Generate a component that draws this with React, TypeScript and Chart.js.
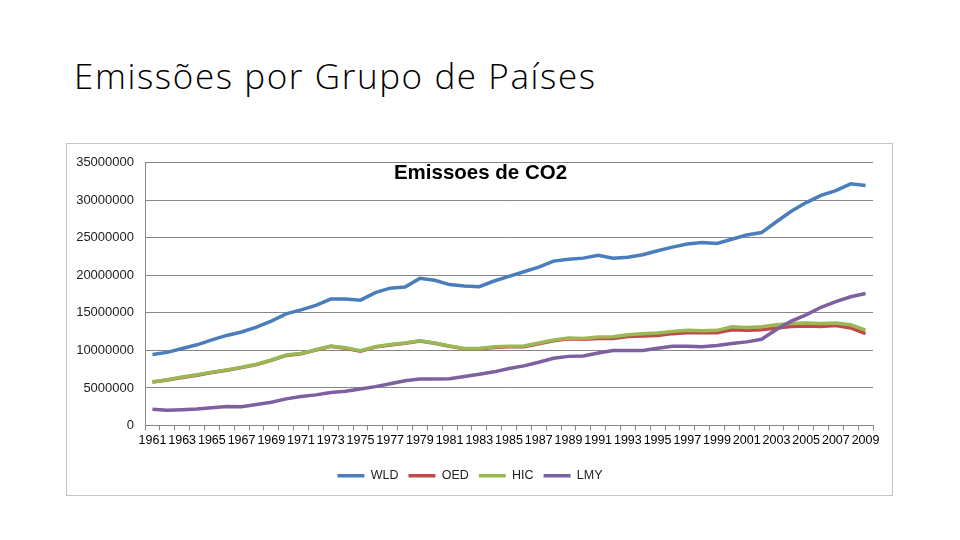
import React, { useEffect, useRef } from "react";
import { Chart, registerables } from "chart.js";

Chart.register(...registerables);

const years = [
  "1961", "1962", "1963", "1964", "1965", "1966", "1967", "1968", "1969", "1970",
  "1971", "1972", "1973", "1974", "1975", "1976", "1977", "1978", "1979", "1980",
  "1981", "1982", "1983", "1984", "1985", "1986", "1987", "1988", "1989", "1990",
  "1991", "1992", "1993", "1994", "1995", "1996", "1997", "1998", "1999", "2000",
  "2001", "2002", "2003", "2004", "2005", "2006", "2007", "2008", "2009",
];

const wld = [
  9470000, 9740000, 10260000, 10750000, 11400000, 12000000, 12460000, 13100000, 13900000, 14870000,
  15400000, 16000000, 16840000, 16840000, 16700000, 17700000, 18300000, 18460000, 19600000, 19340000,
  18770000, 18600000, 18500000, 19250000, 19870000, 20480000, 21100000, 21900000, 22150000, 22300000,
  22680000, 22300000, 22430000, 22760000, 23290000, 23770000, 24170000, 24390000, 24250000, 24820000,
  25390000, 25700000, 27150000, 28550000, 29700000, 30660000, 31300000, 32200000, 31970000,
];

const oed = [
  5780000, 6050000, 6400000, 6700000, 7050000, 7360000, 7710000, 8110000, 8680000, 9340000,
  9550000, 10050000, 10550000, 10300000, 9910000, 10450000, 10730000, 10950000, 11250000, 10950000,
  10550000, 10210000, 10210000, 10400000, 10480000, 10500000, 10900000, 11300000, 11550000, 11500000,
  11600000, 11600000, 11850000, 11930000, 12000000, 12240000, 12370000, 12370000, 12370000, 12760000,
  12680000, 12760000, 13000000, 13200000, 13250000, 13200000, 13330000, 13000000, 12240000,
];

const hic = [
  5830000, 6100000, 6450000, 6750000, 7100000, 7410000, 7760000, 8160000, 8730000, 9390000,
  9600000, 10100000, 10600000, 10350000, 9960000, 10500000, 10780000, 11000000, 11300000, 11000000,
  10600000, 10260000, 10260000, 10480000, 10570000, 10600000, 11000000, 11400000, 11670000, 11600000,
  11800000, 11840000, 12100000, 12240000, 12320000, 12540000, 12680000, 12630000, 12680000, 13160000,
  13070000, 13160000, 13420000, 13600000, 13640000, 13600000, 13640000, 13420000, 12720000,
];

const lmy = [
  2150000, 2020000, 2100000, 2190000, 2370000, 2540000, 2500000, 2800000, 3110000, 3550000,
  3860000, 4080000, 4390000, 4560000, 4870000, 5180000, 5550000, 5960000, 6180000, 6180000,
  6230000, 6540000, 6840000, 7150000, 7590000, 7940000, 8420000, 8950000, 9210000, 9260000,
  9650000, 10000000, 10000000, 10000000, 10300000, 10570000, 10570000, 10480000, 10660000, 10920000,
  11140000, 11490000, 12800000, 13900000, 14740000, 15750000, 16500000, 17150000, 17590000,
];

const chartTitle = "Emissoes de CO2";

const overlayTitle = {
  id: "overlayTitle",
  afterDraw(chart: Chart) {
    const { ctx } = chart;
    ctx.save();
    ctx.font = "bold 20.5px 'Liberation Sans'";
    ctx.fillStyle = "#000000";
    ctx.textAlign = "center";
    ctx.textBaseline = "middle";
    ctx.fillText(chartTitle, chart.width / 2 + 1, 29);
    ctx.restore();
  },
};

const EmissionsChart: React.FC = () => {
  const canvasRef = useRef<HTMLCanvasElement | null>(null);

  useEffect(() => {
    const ctx = canvasRef.current?.getContext("2d");
    if (!ctx) return;

    const line = (label: string, data: number[], color: string, order: number) => ({
      label,
      data,
      borderColor: color,
      backgroundColor: color,
      borderWidth: 3.5,
      pointRadius: 0,
      tension: 0,
      order,
    });

    const chart = new Chart(ctx, {
      type: "line",
      data: {
        labels: years,
        datasets: [
          line("WLD", wld, "#4A7EBB", 4),
          line("OED", oed, "#BE4B48", 3),
          line("HIC", hic, "#98B954", 2),
          line("LMY", lmy, "#7D60A0", 1),
        ],
      },
      options: {
        animation: false,
        responsive: true,
        maintainAspectRatio: false,
        layout: { padding: { top: 16, right: 19, bottom: 3, left: 0 } },
        plugins: {
          title: { display: false },
          tooltip: { enabled: false },
          legend: {
            position: "bottom",
            labels: {
              usePointStyle: true,
              pointStyle: "line",
              pointStyleWidth: 27,
              boxWidth: 27,
              padding: 10,
              color: "#222222",
              font: { family: "'Liberation Sans'", size: 12.5 },
              sort: (a, b) => (a.datasetIndex ?? 0) - (b.datasetIndex ?? 0),
            },
          },
        },
        scales: {
          x: {
            offset: true,
            afterFit: (scale) => {
              scale.height = 34;
            },
            grid: {
              offset: true,
              drawOnChartArea: false,
              drawTicks: true,
              tickLength: 5,
              color: "#868686",
            },
            border: { color: "#868686" },
            ticks: {
              autoSkip: false,
              maxRotation: 0,
              minRotation: 0,
              padding: 3,
              color: "#000000",
              font: { family: "'Liberation Sans'", size: 12.5 },
              callback: (_v, i) => (i % 2 === 0 ? years[i] : ""),
            },
          },
          y: {
            min: 0,
            max: 35000000,
            afterFit: (scale) => {
              scale.width = 78;
            },
            grid: { color: "#868686", drawTicks: false },
            border: { color: "#868686" },
            ticks: {
              stepSize: 5000000,
              padding: 11,
              color: "#222222",
              font: { family: "'Liberation Sans'", size: 13 },
              callback: (v) => String(v),
            },
          },
        },
      },
      plugins: [overlayTitle],
    });

    return () => {
      chart.destroy();
    };
  }, []);

  return (
    <div
      style={{
        position: "absolute",
        left: 66,
        top: 143,
        width: 827,
        height: 353,
        boxSizing: "border-box",
        border: "1px solid #c4c4c4",
        background: "#ffffff",
      }}
    >
      <div style={{ position: "relative", width: 825, height: 351 }}>
        <canvas ref={canvasRef}></canvas>
      </div>
    </div>
  );
};

const App: React.FC = () => {
  return (
    <div
      style={{
        position: "absolute",
        left: 0,
        top: 0,
        width: 960,
        height: 540,
        background: "#ffffff",
        overflow: "hidden",
      }}
    >
      <div
        style={{
          position: "absolute",
          left: 74,
          top: 59,
          fontFamily: "'Open Sans', sans-serif",
          fontWeight: 300,
          fontSize: 35,
          lineHeight: "34px",
          letterSpacing: "1.6px",
          color: "#000000",
          whiteSpace: "nowrap",
        }}
      >
        Emissões por Grupo de Países
      </div>
      <EmissionsChart />
    </div>
  );
};

export default App;
